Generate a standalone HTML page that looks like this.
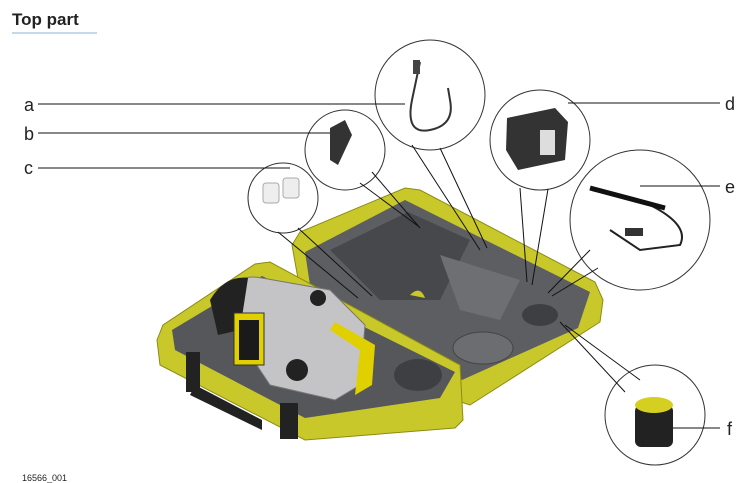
<!DOCTYPE html>
<html><head><meta charset="utf-8"><style>
html,body{margin:0;padding:0;background:#fff;}
svg{display:block;}
text{font-family:"Liberation Sans",sans-serif;}
</style></head><body>
<svg width="755" height="483" viewBox="0 0 755 483" xmlns="http://www.w3.org/2000/svg">
<text x="12" y="25" font-size="17" font-weight="bold" fill="#222">Top part</text>
<line x1="12" y1="33" x2="97" y2="33" stroke="#8fb3d0" stroke-width="1"/>

<!-- lid -->
<path d="M292,245 L300,232 L405,188 L420,190 L595,282 L603,300 L600,322 L470,405 L455,400 L300,290 Z" fill="#c9c82a" stroke="#8d8c10" stroke-width="1"/>
<path d="M305,252 L405,200 L590,292 L578,328 L462,380 L310,285 Z" fill="#5d5e61"/>
<path d="M330,250 L408,212 L470,240 L440,300 L380,300 Z" fill="#47484b"/>
<path d="M440,255 L520,280 L500,320 L460,310 Z" fill="#6e6f72"/>
<ellipse cx="483" cy="348" rx="30" ry="16" fill="#6c6d70" stroke="#444" stroke-width="1"/>
<ellipse cx="540" cy="315" rx="18" ry="11" fill="#3e3f42"/>
<path d="M410,295 Q420,285 425,298 Z" fill="#c9c82a"/>

<!-- base -->
<path d="M157,340 L163,325 L255,264 L270,262 L460,365 L463,420 L455,428 L305,440 L160,365 Z" fill="#c9c82a" stroke="#8d8c10" stroke-width="1"/>
<path d="M172,330 L262,276 L455,372 L440,398 L305,418 L175,350 Z" fill="#56575a"/>
<ellipse cx="418" cy="375" rx="24" ry="16" fill="#3e3f42"/>
<!-- handle -->
<path d="M190,395 L195,385 L262,420 L262,430 Z" fill="#222"/>
<rect x="186" y="352" width="14" height="40" fill="#222"/>
<rect x="280" y="403" width="18" height="36" fill="#222"/>
<!-- instrument -->
<path d="M215,300 Q235,272 262,278 L330,290 L365,325 L360,385 L335,400 L270,385 L240,340 Z" fill="#c4c4c6" stroke="#777" stroke-width="1"/>
<path d="M210,300 Q225,275 248,278 L240,330 L218,335 Z" fill="#222"/>
<rect x="234" y="313" width="30" height="52" fill="#e0d000" stroke="#333"/>
<rect x="239" y="320" width="20" height="40" fill="#1a1a1a"/>
<path d="M335,322 L375,345 L372,385 L355,395 L360,350 L330,330 Z" fill="#e0d000"/>
<circle cx="297" cy="370" r="11" fill="#222"/>
<circle cx="318" cy="298" r="8" fill="#222"/>

<!-- callout circles -->
<g fill="none" stroke="#333" stroke-width="1">
<circle cx="430" cy="95" r="55"/>
<circle cx="345" cy="150" r="40"/>
<circle cx="283" cy="198" r="35"/>
<circle cx="540" cy="140" r="50"/>
<circle cx="640" cy="220" r="70"/>
<circle cx="655" cy="415" r="50"/>
</g>
<!-- leader lines -->
<g stroke="#111" stroke-width="1">
<line x1="38" y1="104" x2="405" y2="104"/>
<line x1="38" y1="133" x2="335" y2="133"/>
<line x1="38" y1="168" x2="290" y2="168"/>
<line x1="568" y1="103" x2="720" y2="103"/>
<line x1="640" y1="186" x2="720" y2="186"/>
<line x1="672" y1="428" x2="720" y2="428"/>
<line x1="412" y1="145" x2="480" y2="250"/><line x1="440" y1="148" x2="487" y2="248"/>
<line x1="360" y1="183" x2="418" y2="226"/><line x1="372" y1="172" x2="420" y2="228"/>
<line x1="278" y1="232" x2="358" y2="298"/><line x1="298" y1="228" x2="372" y2="296"/>
<line x1="520" y1="188" x2="527" y2="282"/><line x1="548" y1="189" x2="532" y2="285"/>
<line x1="590" y1="250" x2="548" y2="293"/><line x1="598" y1="268" x2="552" y2="296"/>
<line x1="560" y1="322" x2="625" y2="392"/><line x1="565" y1="325" x2="640" y2="380"/>
</g>
<!-- items -->
<path d="M420,62 L412,100 Q405,135 430,130 Q455,125 450,100 L448,88" fill="none" stroke="#333" stroke-width="2"/>
<rect x="413" y="60" width="7" height="14" fill="#444"/>
<path d="M330,128 L345,120 L352,135 L338,165 L330,160 Z" fill="#333"/>
<rect x="263" y="183" width="16" height="20" rx="3" fill="#eee" stroke="#aaa"/>
<rect x="283" y="178" width="16" height="20" rx="3" fill="#eee" stroke="#aaa"/>
<path d="M507,118 L555,108 L568,122 L565,160 L518,170 L506,150 Z" fill="#333"/>
<rect x="540" y="130" width="15" height="25" fill="#ddd"/>
<path d="M592,190 L650,205 Q690,225 680,245 L640,250 L610,230" fill="none" stroke="#222" stroke-width="2"/>
<path d="M590,188 L665,208" stroke="#111" stroke-width="5"/>
<rect x="625" y="228" width="18" height="8" fill="#333"/>
<rect x="635" y="405" width="38" height="42" rx="6" fill="#222"/>
<ellipse cx="654" cy="405" rx="19" ry="8" fill="#d4cf20"/>

<text x="24" y="111" font-size="18" fill="#222">a</text>
<text x="24" y="140" font-size="18" fill="#222">b</text>
<text x="24" y="174" font-size="18" fill="#222">c</text>
<text x="725" y="110" font-size="18" fill="#222">d</text>
<text x="725" y="193" font-size="18" fill="#222">e</text>
<text x="727" y="435" font-size="18" fill="#222">f</text>
<text x="22" y="481" font-size="9" fill="#222">16566_001</text>
</svg>
</body></html>
